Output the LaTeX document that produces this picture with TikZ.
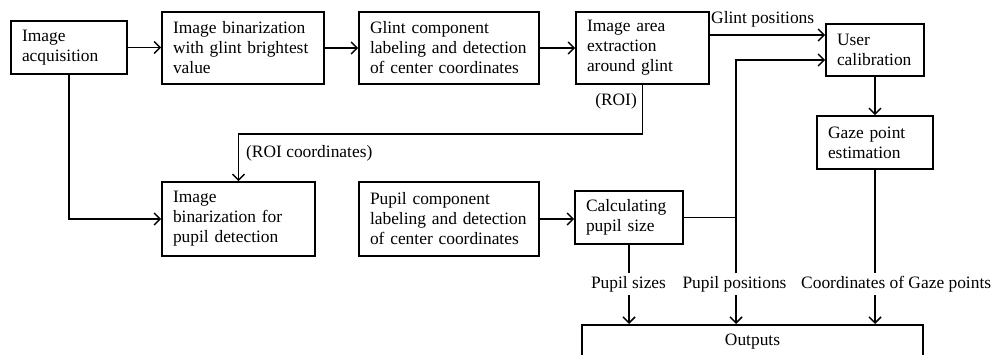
\documentclass[tikz,border=0pt]{standalone}
\usepackage{fontspec}
\setmainfont{Liberation Serif}
\usetikzlibrary{arrows.meta,calc}
\begin{document}
\begin{tikzpicture}[x=1pt,y=-1pt,
  font=\fontsize{17.4}{20}\selectfont,
  box/.style={draw, line width=1.7pt, align=left, inner xsep=11pt, inner ysep=0pt, anchor=center},
  lbl/.style={inner sep=0pt, font=\fontsize{17.4}{20}\selectfont},
  ln/.style={line width=1.7pt},
  arr/.style={line width=1.7pt, -{Straight Barb[length=6pt,width=12pt,line width=1.5pt]}}]
\useasboundingbox (0,0) rectangle (996,354);
\clip (0,0) rectangle (996,354);
\node[box, minimum width=116pt, minimum height=53pt, text width=94pt] (a) at (69,47.5) {Image\\acquisition};
\node[box, minimum width=162pt, minimum height=72pt, text width=140pt] (b) at (243,48) {Image binarization\\with glint brightest\\value};
\node[box, minimum width=180pt, minimum height=72pt, text width=158pt] (c) at (449,48) {Glint component\\labeling and detection\\of center coordinates};
\node[box, minimum width=133pt, minimum height=72pt, text width=111pt] (d) at (642.5,48) {Image area\\extraction\\around glint};
\node[box, minimum width=98pt, minimum height=52pt, text width=76pt] (h) at (875,50) {User\\calibration};
\node[box, minimum width=116pt, minimum height=53pt, text width=94pt] (i) at (875,142.5) {Gaze point\\estimation};
\node[box, minimum width=153pt, minimum height=74pt, text width=131pt] (e) at (238.5,219) {Image\\binarization for\\pupil detection};
\node[box, minimum width=180pt, minimum height=74pt, text width=158pt] (f) at (449,219) {Pupil component\\labeling and detection\\of center coordinates};
\node[box, minimum width=108pt, minimum height=53pt, text width=86pt] (g) at (629,217.5) {Calculating\\pupil size};
\node[draw, line width=1.7pt, minimum width=341pt, minimum height=34pt, inner sep=0pt, anchor=north] (out) at (752.5,324) {Outputs};

\node[lbl, anchor=west] (gp) at (711,19) {Glint positions};
\node[lbl, anchor=east] (roi) at (637,101) {(ROI)};
\node[lbl, anchor=west] (roic) at (246,153) {(ROI coordinates)};
\node[lbl] (ps) at (628.5,284) {Pupil sizes};
\node[lbl] (ppos) at (734.5,284) {Pupil positions};
\node[lbl, anchor=west] (cg) at (801,284) {Coordinates of Gaze points};

\coordinate (j) at (736,217.5);
\coordinate (p1) at (736,273);
\coordinate (p2) at (736,295);

\draw[arr] (a.east) -- (a.east -| b.west);
\draw[arr] (b.east) -- (b.east -| c.west);
\draw[arr] (c.east) -- (c.east -| d.west);
\draw[arr] ([yshift=13pt]d.east) -- ([yshift=13pt]d.east -| h.west);
\draw[arr] (h.south) -- (h.south |- i.north);
\draw[arr] (a.south) |- (e.west);
\draw[arr] (d.south) -- (d.south |- 0,134) -| (e.north);
\draw[arr] (f.east) -- (f.east -| g.west);
\draw[ln] (g.east) -- (j);
\draw[arr] (p1) |- ([yshift=-10pt]h.west);
\draw[arr] (p2) -- (p2 |- out.north);
\draw[ln] (g.south) -- (g.south |- p1);
\draw[arr] (g.south |- p2) -- (g.south |- out.north);
\draw[ln] (i.south) -- (i.south |- p1);
\draw[arr] (i.south |- p2) -- (i.south |- out.north);
\end{tikzpicture}
\end{document}
